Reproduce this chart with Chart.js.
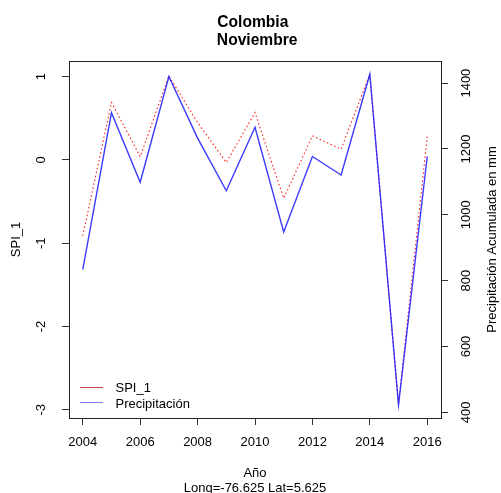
<!DOCTYPE html>
<html>
<head>
<meta charset="utf-8">
<script src="https://cdn.jsdelivr.net/npm/chart.js@4.4.1/dist/chart.umd.min.js"></script>
<style>
  html, body { margin: 0; padding: 0; background: #fff; }
  canvas { display: block; }
</style>
</head>
<body>
<canvas id="c" width="501" height="493"></canvas>
<script>
// November series, 2004-2016
const years  = [2004, 2005, 2006, 2007, 2008, 2009, 2010, 2011, 2012, 2013, 2014, 2015, 2016];
const spi    = [-0.91, 0.69, 0.04, 1.01, 0.45, -0.03, 0.57, -0.46, 0.29, 0.13, 1.03, -2.94, 0.28];
const precip = [834, 1310, 1099, 1420, 1233, 1073, 1266, 948, 1177, 1121, 1427, 423, 1177];

const xTicks      = [2004, 2006, 2008, 2010, 2012, 2014, 2016];
const spiTicks    = [-3, -2, -1, 0, 1];
const precipTicks = [400, 600, 800, 1000, 1200, 1400];

const titleLines  = ['Colombia ', ' Noviembre'];
const xTitle      = 'Año';
const xSubTitle   = 'Long=-76.625 Lat=5.625';
const spiTitle    = 'SPI_1';
const precipTitle = 'Precipitación Acumulada en mm';
const seriesNames = ['SPI_1', 'Precipitación'];

const FONT = '"Liberation Sans", Arial, Helvetica, sans-serif';

// axis range with a 4% margin on each side of the data
function padRange(vals) {
  const lo = Math.min(...vals), hi = Math.max(...vals), d = (hi - lo) * 0.04;
  return { min: lo - d, max: hi + d };
}
const xr = padRange(years), sr = padRange(spi), pr = padRange(precip);

function setTicks(list) {
  return (scale) => { scale.ticks = list.map(v => ({ value: v })); };
}

const tickGrid = { display: true, drawOnChartArea: false, drawTicks: true, tickLength: 7, color: '#333', lineWidth: 1 };

// frame, tick labels, titles and legend
const annotations = {
  id: 'annotations',
  afterDraw(chart) {
    const ctx = chart.ctx, a = chart.chartArea;
    const sx = chart.scales.x, sy = chart.scales.y, sp = chart.scales.y1;
    ctx.save();

    ctx.strokeStyle = '#222';
    ctx.lineWidth = 1;
    ctx.strokeRect(a.left + 0.5, a.top + 0.5, a.right - a.left, a.bottom - a.top);

    ctx.fillStyle = '#000';
    ctx.font = '13px ' + FONT;
    ctx.textAlign = 'center';
    ctx.textBaseline = 'alphabetic';

    xTicks.forEach(t => ctx.fillText(String(t), sx.getPixelForValue(t), a.bottom + 28));

    const vertical = (txt, x, y) => {
      ctx.save();
      ctx.translate(x, y);
      ctx.rotate(-Math.PI / 2);
      ctx.fillText(txt, 0, 0);
      ctx.restore();
    };
    spiTicks.forEach(t => vertical(String(t), 44.6, sy.getPixelForValue(t)));
    precipTicks.forEach(t => vertical(String(t), 470, sp.getPixelForValue(t)));

    const midY = (a.top + a.bottom) / 2, midX = (a.left + a.right) / 2;
    vertical(spiTitle, 19.5, midY);
    vertical(precipTitle, 496, midY);

    ctx.fillText(xTitle, midX, 476.7);
    ctx.fillText(xSubTitle, midX, 491.8);

    ctx.font = 'bold 15.6px ' + FONT;
    ctx.fillText(titleLines[0], midX, 26.7);
    ctx.fillText(titleLines[1], midX, 45);

    // legend
    const entries = [
      { name: seriesNames[0], color: 'rgba(190,50,50,0.9)', y: 387.5, base: 392 },
      { name: seriesNames[1], color: 'rgba(80,80,255,0.75)', y: 402.5, base: 407.5 }
    ];
    ctx.font = '13px ' + FONT;
    ctx.textAlign = 'left';
    entries.forEach(e => {
      ctx.strokeStyle = e.color;
      ctx.lineWidth = 1;
      ctx.beginPath();
      ctx.moveTo(80, e.y);
      ctx.lineTo(103, e.y);
      ctx.stroke();
      ctx.fillStyle = '#000';
      ctx.fillText(e.name, 115.5, e.base);
    });

    ctx.restore();
  }
};

new Chart(document.getElementById('c'), {
  type: 'line',
  data: {
    datasets: [
      {
        label: seriesNames[1],
        data: years.map((x, i) => ({ x, y: precip[i] })),
        yAxisID: 'y1',
        borderColor: 'rgba(25,25,255,0.85)',
        borderWidth: 1.4,
        pointRadius: 0,
        tension: 0,
        order: 0
      },
      {
        label: seriesNames[0],
        data: years.map((x, i) => ({ x, y: spi[i] })),
        yAxisID: 'y',
        borderColor: 'rgba(255,0,0,0.9)',
        borderWidth: 1.1,
        borderDash: [1.5, 2.5],
        pointRadius: 0,
        tension: 0,
        order: 1
      }
    ]
  },
  options: {
    responsive: false,
    animation: false,
    events: [],
    devicePixelRatio: 1,
    layout: { padding: { top: 61, left: 0, right: 0, bottom: 0 } },
    plugins: { legend: { display: false }, tooltip: { enabled: false }, title: { display: false } },
    scales: {
      x: {
        type: 'linear', position: 'bottom', min: xr.min, max: xr.max,
        afterBuildTicks: setTicks(xTicks),
        afterFit: s => { s.height = 75; },
        ticks: { display: false },
        grid: tickGrid,
        border: { display: false }
      },
      y: {
        type: 'linear', position: 'left', min: sr.min, max: sr.max,
        afterBuildTicks: setTicks(spiTicks),
        afterFit: s => { s.width = 69; },
        ticks: { display: false },
        grid: tickGrid,
        border: { display: false }
      },
      y1: {
        type: 'linear', position: 'right', min: pr.min, max: pr.max,
        afterBuildTicks: setTicks(precipTicks),
        afterFit: s => { s.width = 60; },
        ticks: { display: false },
        grid: tickGrid,
        border: { display: false }
      }
    }
  },
  plugins: [annotations]
});
</script>
</body>
</html>
